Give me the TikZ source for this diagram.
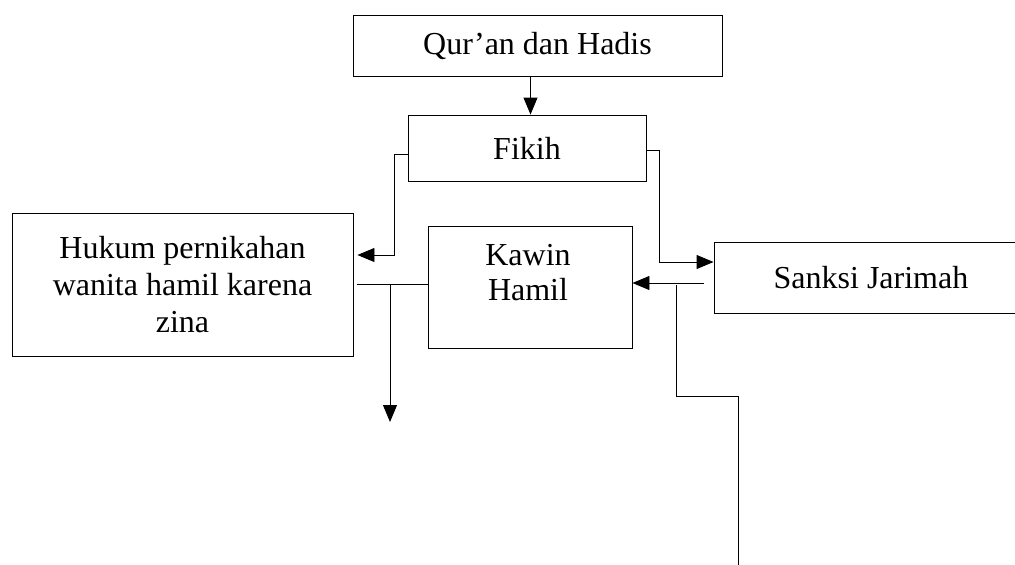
\documentclass[tikz,border=0pt]{standalone}
\usepackage{fontspec}
\setmainfont{Liberation Serif}
\usetikzlibrary{arrows.meta}

\tikzset{
  kotak/.style={draw,line width=0.9pt,inner sep=0pt,align=center},
  tulisan/.style={align=center,inner sep=0pt,font=\fontsize{32}{37}\selectfont}
}

\begin{document}
\begin{tikzpicture}
			[line cap=butt,line join=miter,>={Triangle[length=17pt,width=14pt]},x=1pt,y=-1pt,line width=0.9pt]
			\useasboundingbox (0,0) rectangle (1015,565);
			\clip (0,0) rectangle (1015,565);
			% kotak
			\node[kotak,tulisan,minimum width=369,minimum height=61] (quran) at (537.5,45.5) {Qur’an dan Hadis};
			\node[kotak,tulisan,minimum width=238,minimum height=66] (fikih) at (527,148) {Fikih};
			\node[kotak,tulisan,minimum width=341,minimum height=143] (hukum) at (182.5,284.5) {Hukum pernikahan\\wanita hamil karena\\zina};
			\node[kotak,minimum width=204,minimum height=122] (kawin) at (530,287) {};
			\node[tulisan,font=\fontsize{32}{35}\selectfont] (kawintext) at (528,273) {Kawin\\Hamil};
			\node[kotak,tulisan,minimum width=314,minimum height=71] (sanksi) at (871,277.5) {Sanksi Jarimah};
			% garis
			\draw[->] ([xshift=-7pt]quran.south) -- ([xshift=-7pt]quran.south |- fikih.north);
			\draw[->] ([yshift=-6pt]fikih.west) -- ++(-13,0) |- ([xshift=4pt,yshift=29.5pt]hukum.east);
			\draw[->] ([yshift=-2pt]fikih.east) -- ++(13,0) |- ([yshift=15.5pt]sanksi.west);
			\coordinate (s1) at (704,283);
			\draw[->] (s1) -- (s1 -| kawin.east);
			\draw ([xshift=4pt]hukum.east) -- (kawin.west |- hukum.east);
			\coordinate (h1) at (390,284.5);
			\draw[->] (h1) -- ++(0,137.5);
			\coordinate (s2) at (676,285);
			\coordinate (ujung) at (738,565);
			\draw (s2) |- (ujung |- 0,396) -- (ujung);
		\end{tikzpicture}
\end{document}
